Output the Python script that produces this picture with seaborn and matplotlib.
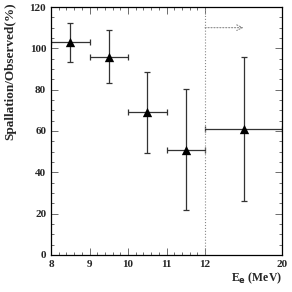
import numpy as np
import seaborn as sns
import matplotlib.pyplot as plt
import matplotlib.ticker as mticker

# data
energy = [8.5, 9.5, 10.5, 11.5, 16.0]
ratio = [103, 96, 69, 51, 61]
ratio_err = [9.5, 13, 19.5, 29.5, 35]
energy_err = [0.5, 0.5, 0.5, 0.5, 4.0]
xticks = [8, 9, 10, 11, 12, 20]
xticklabels = ['8', '9', '10', '11', '12', '20']
yticks = [0, 20, 40, 60, 80, 100, 120]

sns.set_style("ticks")
plt.rcParams['font.family'] = ['Liberation Serif', 'DejaVu Serif']
plt.rcParams['font.weight'] = 'bold'


def fwd(x):
    x = np.asarray(x, dtype=float)
    return np.where(x <= 12, x, 12 + (x - 12) / 4.0)


def inv(x):
    x = np.asarray(x, dtype=float)
    return np.where(x <= 12, x, 12 + (x - 12) * 4.0)


fig = plt.figure(figsize=(2.92, 2.92), dpi=100)
ax = fig.add_axes([0.175, 0.127, 0.791, 0.849])
ax.set_xscale('function', functions=(fwd, inv))

ax.errorbar(energy, ratio, xerr=energy_err, yerr=ratio_err, fmt='none',
            ecolor='#333333', elinewidth=0.9, capsize=2.5, capthick=0.9)
sns.scatterplot(x=energy, y=ratio, marker='^', color='black', s=45,
                edgecolor='black', linewidth=0, ax=ax, zorder=3)

ax.axvline(12, color='#888888', lw=0.8, ls=':')
ax.annotate('', xy=(16, 110), xytext=(12, 110),
            arrowprops=dict(arrowstyle='->', color='#888888', lw=0.8,
                            linestyle=':', shrinkA=0, shrinkB=0))

ax.set_xlim(8, 20)
ax.set_ylim(0, 120)
ax.set_xticks(xticks)
ax.set_xticklabels(xticklabels)
ax.set_xticks(np.arange(8.2, 12, 0.2), minor=True)
ax.set_yticks(yticks)
ax.yaxis.set_minor_locator(mticker.MultipleLocator(5))
ax.tick_params(which='both', direction='in', top=True, right=True,
               labelsize=8, width=0.6, color='#555555')
ax.tick_params(which='major', length=5)
ax.tick_params(which='minor', length=2.5)
for lab in ax.get_xticklabels() + ax.get_yticklabels():
    lab.set_fontweight('bold')
for sp in ax.spines.values():
    sp.set_linewidth(0.9)
    sp.set_color('black')

ax.set_ylabel('Spallation/Observed(%)', fontsize=9.5, fontweight='bold')
ax.yaxis.set_label_coords(-0.152, 0.742)
ax.set_xlabel('E$_\\mathbf{e}$ (MeV)', fontsize=8.5, fontweight='bold', ha='right')
ax.xaxis.set_label_coords(1.0, -0.065)

fig.savefig('out.png', dpi=100)
